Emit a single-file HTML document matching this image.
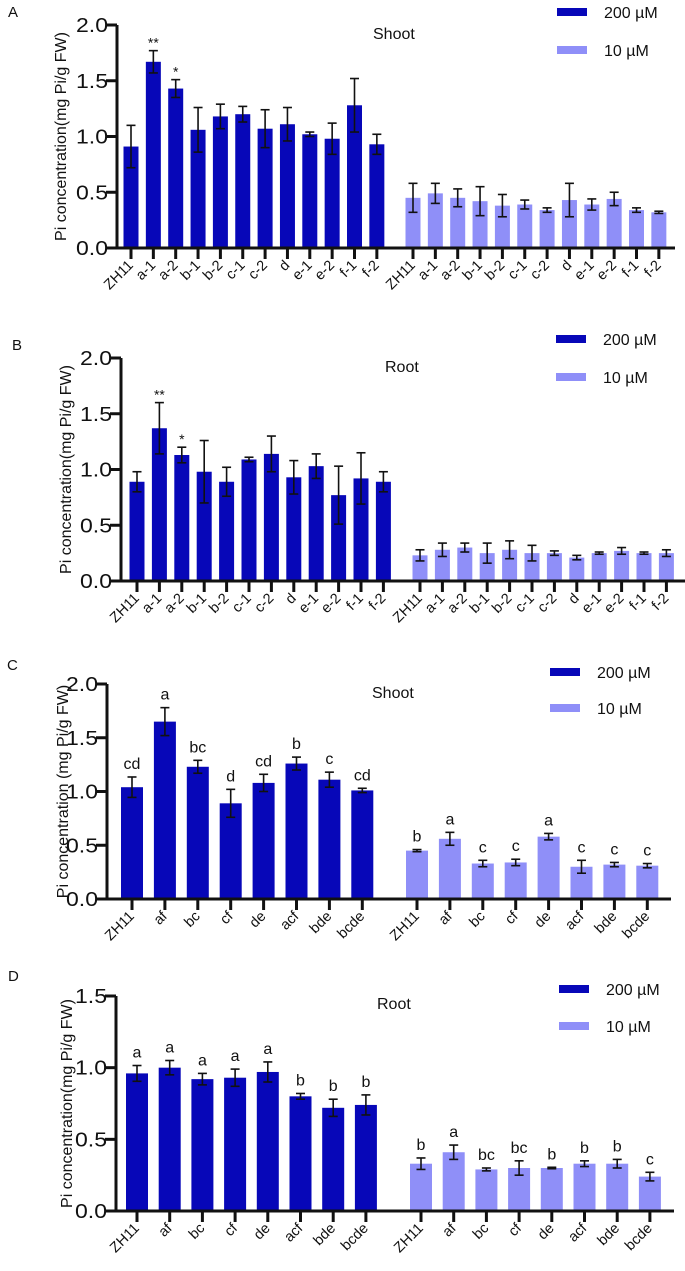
<!DOCTYPE html>
<html><head><meta charset="utf-8"><style>
html,body{margin:0;padding:0;background:#fff;}
svg{display:block;font-family:"Liberation Sans",Arial,sans-serif;}
</style></head><body>
<svg id="fig" width="685" height="1271" viewBox="0 0 685 1271" xmlns="http://www.w3.org/2000/svg"></svg>
<script>
// Panel A (Shoot)
const catsA = ["ZH11","a-1","a-2","b-1","b-2","c-1","c-2","d","e-1","e-2","f-1","f-2"];
const hiA = [0.91,1.67,1.43,1.06,1.18,1.20,1.07,1.11,1.02,0.98,1.28,0.93];
const hiErrA = [0.19,0.10,0.08,0.20,0.11,0.07,0.17,0.15,0.02,0.14,0.24,0.09];
const loA = [0.45,0.49,0.45,0.42,0.38,0.39,0.34,0.43,0.39,0.44,0.34,0.32];
const loErrA = [0.13,0.09,0.08,0.13,0.10,0.04,0.02,0.15,0.05,0.06,0.02,0.01];
const markA = ["","**","*","","","","","","","","",""];
// Panel B (Root)
const catsB = catsA;
const hiB = [0.89,1.37,1.13,0.98,0.89,1.09,1.14,0.93,1.03,0.77,0.92,0.89];
const hiErrB = [0.09,0.23,0.07,0.28,0.13,0.02,0.16,0.15,0.11,0.26,0.23,0.09];
const loB = [0.23,0.28,0.30,0.25,0.28,0.25,0.25,0.21,0.25,0.27,0.25,0.25];
const loErrB = [0.05,0.06,0.04,0.09,0.08,0.07,0.02,0.02,0.01,0.03,0.01,0.03];
const markB = ["","**","*","","","","","","","","",""];
// Panel C (Shoot)
const catsC = ["ZH11","af","bc","cf","de","acf","bde","bcde"];
const hiC = [1.04,1.65,1.23,0.89,1.08,1.26,1.11,1.01];
const hiErrC = [0.095,0.13,0.06,0.13,0.08,0.06,0.07,0.02];
const loC = [0.45,0.56,0.33,0.34,0.58,0.30,0.32,0.31];
const loErrC = [0.01,0.06,0.03,0.03,0.03,0.06,0.02,0.02];
const hiLetC = ["cd","a","bc","d","cd","b","c","cd"];
const loLetC = ["b","a","c","c","a","c","c","c"];
// Panel D (Root)
const catsD = catsC;
const hiD = [0.96,1.00,0.92,0.93,0.97,0.80,0.72,0.74];
const hiErrD = [0.055,0.05,0.04,0.06,0.07,0.02,0.06,0.07];
const loD = [0.33,0.41,0.29,0.30,0.30,0.33,0.33,0.24];
const loErrD = [0.04,0.05,0.01,0.05,0.005,0.02,0.03,0.03];
const loLetD = ["b","a","bc","bc","b","b","b","c"];
const hiLetD = ["a","a","a","a","a","b","b","b"];
const yTicks2 = ["0.0","0.5","1.0","1.5","2.0"];
const yTicks15 = ["0.0","0.5","1.0","1.5"];

const NS="http://www.w3.org/2000/svg";
const svg=document.getElementById('fig');
function mk(tag,attrs,parent){const e=document.createElementNS(NS,tag);for(const k in attrs)e.setAttribute(k,attrs[k]);(parent||svg).appendChild(e);return e;}
const DARK="#0707b8", LIGHT="#8f8ff8";

function panel(p){
  const g=mk('g',{});
  
  
  const unit=(p.y0-p.yTop)/p.yMax;
  const Y=v=>p.y0-v*unit;
  const X1=i=>p.x1+i*p.step, X2=i=>p.x2+i*p.step;
  let t=mk('text',{x:p.lx,y:p.ly,'font-size':15,fill:'#111'},g);t.textContent=p.id;
  
  
  t=mk('text',{x:0,y:0,'font-size':16,fill:'#111','text-anchor':'middle',transform:`translate(${p.tx},${(p.y0+p.yTop)/2}) rotate(-90)`},g);
  t.textContent=p.title;
  
  
  function series(cats,vals,errs,X,color,name,labels){
    vals.forEach((v,i)=>{
      const cx=X(i);
      const r=mk('rect',{x:cx-p.bw/2,y:Y(v),width:p.bw,height:p.y0-Y(v),fill:color},g);
      
      
      const e=errs[i];
      const eg=mk('g',{stroke:'#111','stroke-width':1.6},g);
      
      
      mk('line',{x1:cx,x2:cx,y1:Y(v+e),y2:Y(v-e)},eg);
      mk('line',{x1:cx-4.5,x2:cx+4.5,y1:Y(v+e),y2:Y(v+e)},eg);
      mk('line',{x1:cx-4.5,x2:cx+4.5,y1:Y(v-e),y2:Y(v-e)},eg);
      if(labels&&labels[i]){
        const star=labels[i].indexOf('*')>=0;
        const a=mk('text',{x:cx,y:Y(v+e)-(star?3:8),'font-size':star?14:16,fill:'#111','text-anchor':'middle'},g);
        a.textContent=labels[i];
        
        
      }
      mk('line',{x1:cx,x2:cx,y1:p.y0,y2:p.y0+11,stroke:'#111','stroke-width':3},g);
      const lb=mk('text',{x:0,y:0,'font-size':14.5,fill:'#111','text-anchor':'end',transform:`translate(${cx+3},${p.y0+18}) rotate(-45)`},g);
      lb.textContent=cats[i];
      
      
    });
  }
  series(p.cats,p.hi,p.hiErr,X1,DARK,'200uM',p.hiLab);
  series(p.cats,p.lo,p.loErr,X2,LIGHT,'10uM',p.loLab);
  const ax=mk('path',{d:`M${p.ax},${p.yTop} V${p.y0} H${p.axEnd}`,fill:'none',stroke:'#111','stroke-width':3},g);
  
  
  p.ticks.forEach((s,i)=>{
    const v=parseFloat(s), yy=Y(v);
    mk('line',{x1:p.ax-11,x2:p.ax,y1:yy,y2:yy,stroke:'#111','stroke-width':3},g);
    const tt=mk('text',{x:p.ax-9,y:yy+7,'font-size':20,fill:'#111','text-anchor':'end',textLength:32,lengthAdjust:'spacingAndGlyphs'},g);
    tt.textContent=s;
    
    
  });
  t=mk('text',{x:p.sx,y:p.sy+6,'font-size':16,fill:'#111'},g);t.textContent=p.sub;
  
  
  [[DARK,'200 µM',p.legY1],[LIGHT,'10 µM',p.legY2]].forEach(([c,s,yy])=>{
    const lg=mk('g',{},g);
    
    
    mk('rect',{x:p.legX,y:yy-4,width:30,height:8,fill:c},lg);
    const lt=mk('text',{x:p.legX+47,y:yy+6,'font-size':16,fill:'#111'},lg);lt.textContent=s;
  });
}
panel({id:'A',lx:8,ly:17,tx:66,title:'Pi concentration(mg Pi/g FW)',ax:117,axEnd:675,y0:248,yTop:25,yMax:2,ticks:yTicks2,
  x1:131,x2:413,step:22.35,bw:15,cats:catsA,hi:hiA,hiErr:hiErrA,lo:loA,loErr:loErrA,hiLab:markA,
  sub:'Shoot',sx:373,sy:33,legX:557,legY1:12,legY2:50});
panel({id:'B',lx:12,ly:350,tx:71,title:'Pi concentration(mg Pi/g FW)',ax:121,axEnd:685,y0:581,yTop:358,yMax:2,ticks:yTicks2,
  x1:137,x2:420,step:22.4,bw:15,cats:catsB,hi:hiB,hiErr:hiErrB,lo:loB,loErr:loErrB,hiLab:markB,
  sub:'Root',sx:385,sy:366,legX:556,legY1:339,legY2:377});
panel({id:'C',lx:7,ly:670,tx:68,title:'Pi concentration (mg Pi/g FW)',ax:107,axEnd:671,y0:899,yTop:684,yMax:2,ticks:yTicks2,
  x1:132,x2:417,step:32.9,bw:22,cats:catsC,hi:hiC,hiErr:hiErrC,lo:loC,loErr:loErrC,hiLab:hiLetC,loLab:loLetC,
  sub:'Shoot',sx:372,sy:692,legX:550,legY1:672,legY2:708});
panel({id:'D',lx:8,ly:981,tx:72,title:'Pi concentration(mg Pi/g FW)',ax:116,axEnd:674,y0:1211,yTop:996,yMax:1.5,ticks:yTicks15,
  x1:137,x2:421,step:32.7,bw:22,cats:catsD,hi:hiD,hiErr:hiErrD,lo:loD,loErr:loErrD,hiLab:hiLetD,loLab:loLetD,
  sub:'Root',sx:377,sy:1003,legX:559,legY1:989,legY2:1026});
</script>
</body></html>
